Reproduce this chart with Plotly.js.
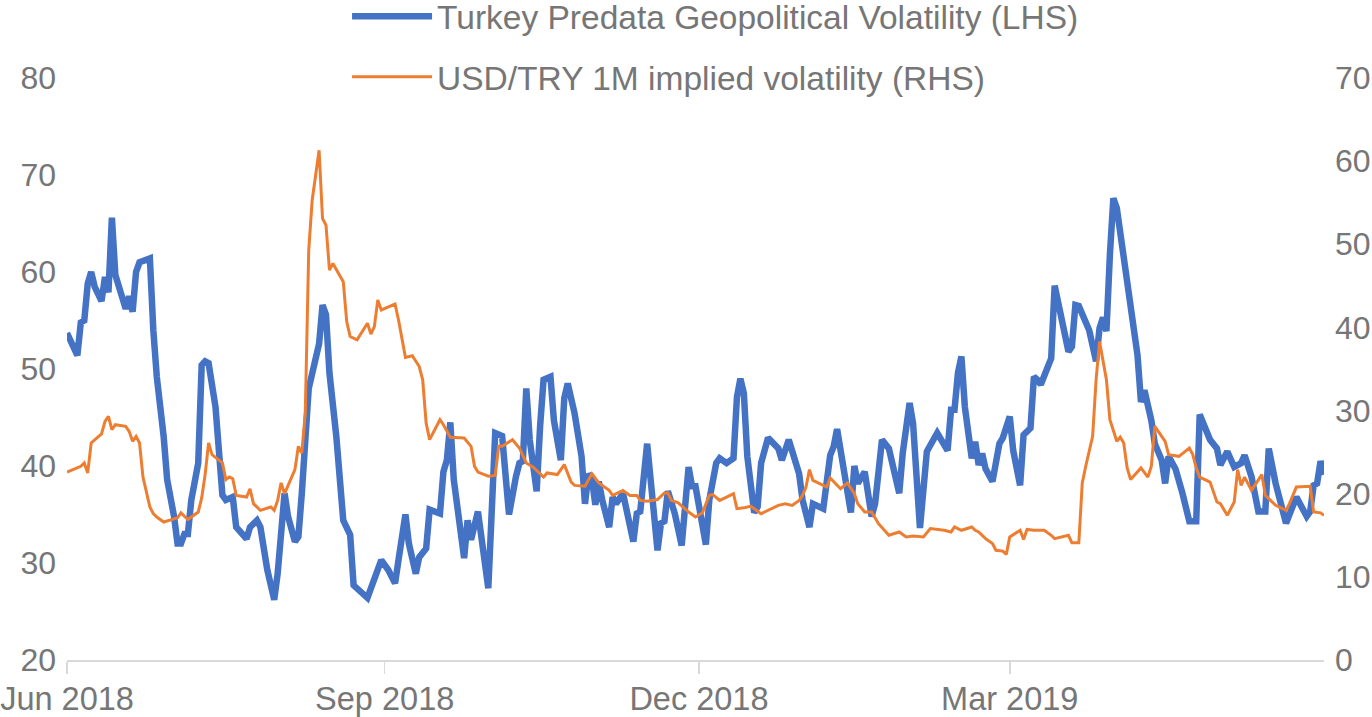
<!DOCTYPE html>
<html>
<head>
<meta charset="utf-8">
<script src="https://cdn.plot.ly/plotly-3.0.1.min.js"></script>
<style>
html,body{margin:0;padding:0;background:#fff;}
#chart{width:1372px;height:717px;}
</style>
</head>
<body>
<div id="chart"></div>
<script>
// Turkey Predata Geopolitical Volatility (LHS)
const geoDates = [
'2018-06-01','2018-06-04','2018-06-05','2018-06-06','2018-06-07','2018-06-08','2018-06-09','2018-06-11','2018-06-12','2018-06-13',
'2018-06-14','2018-06-15','2018-06-18','2018-06-19','2018-06-20','2018-06-21','2018-06-22','2018-06-25','2018-06-26','2018-06-27',
'2018-06-29','2018-06-30','2018-07-02','2018-07-03','2018-07-04','2018-07-05','2018-07-06','2018-07-07','2018-07-09','2018-07-10',
'2018-07-11','2018-07-12','2018-07-14','2018-07-15','2018-07-16','2018-07-17','2018-07-19','2018-07-20','2018-07-23','2018-07-24',
'2018-07-26','2018-07-27','2018-07-29','2018-07-31','2018-08-01','2018-08-03','2018-08-04','2018-08-06','2018-08-07','2018-08-08',
'2018-08-10','2018-08-13','2018-08-14','2018-08-15','2018-08-16','2018-08-18','2018-08-20','2018-08-22','2018-08-23','2018-08-27',
'2018-08-29','2018-08-31','2018-09-02','2018-09-04','2018-09-05','2018-09-07','2018-09-08','2018-09-10','2018-09-11','2018-09-13',
'2018-09-14','2018-09-17','2018-09-18','2018-09-19','2018-09-20','2018-09-21','2018-09-24','2018-09-25','2018-09-26','2018-09-28',
'2018-10-01','2018-10-02','2018-10-03','2018-10-05','2018-10-07','2018-10-09','2018-10-10','2018-10-11','2018-10-12','2018-10-13',
'2018-10-15','2018-10-16','2018-10-17','2018-10-19','2018-10-20','2018-10-22','2018-10-23','2018-10-24','2018-10-26','2018-10-28',
'2018-10-29','2018-10-30','2018-10-31','2018-11-01','2018-11-02','2018-11-03','2018-11-05','2018-11-06','2018-11-07','2018-11-09',
'2018-11-12','2018-11-13','2018-11-14','2018-11-16','2018-11-17','2018-11-19','2018-11-20','2018-11-21','2018-11-22','2018-11-24',
'2018-11-26','2018-11-28','2018-11-29','2018-11-30','2018-12-03','2018-12-04','2018-12-06','2018-12-07','2018-12-09','2018-12-11',
'2018-12-12','2018-12-13','2018-12-14','2018-12-15','2018-12-17','2018-12-18','2018-12-19','2018-12-21','2018-12-24','2018-12-25',
'2018-12-27','2018-12-30','2018-12-31','2019-01-02','2019-01-03','2019-01-06','2019-01-08','2019-01-09','2019-01-10','2019-01-12',
'2019-01-14','2019-01-15','2019-01-16','2019-01-18','2019-01-20','2019-01-21','2019-01-23','2019-01-25','2019-01-28','2019-01-29',
'2019-01-31','2019-02-01','2019-02-03','2019-02-05','2019-02-08','2019-02-11','2019-02-12','2019-02-13','2019-02-14','2019-02-15',
'2019-02-16','2019-02-18','2019-02-19','2019-02-20','2019-02-21','2019-02-22','2019-02-24','2019-02-26','2019-02-27','2019-03-01',
'2019-03-02','2019-03-04','2019-03-05','2019-03-07','2019-03-08','2019-03-09','2019-03-10','2019-03-12','2019-03-13','2019-03-14',
'2019-03-16','2019-03-18','2019-03-19','2019-03-20','2019-03-21','2019-03-24','2019-03-26','2019-03-27','2019-03-28','2019-03-29',
'2019-03-30','2019-03-31','2019-04-01','2019-04-03','2019-04-04','2019-04-05','2019-04-07','2019-04-08','2019-04-09','2019-04-11',
'2019-04-12','2019-04-14','2019-04-15','2019-04-16','2019-04-18','2019-04-20','2019-04-22','2019-04-24','2019-04-25','2019-04-28',
'2019-04-30','2019-05-01','2019-05-03','2019-05-05','2019-05-07','2019-05-08','2019-05-10','2019-05-12','2019-05-14','2019-05-15',
'2019-05-17','2019-05-20','2019-05-21','2019-05-23','2019-05-26','2019-05-27','2019-05-28','2019-05-29','2019-05-30','2019-05-31'
];
const geoValues = [
53.7,51.4,54.8,55.0,58.8,60.0,58.5,57.0,59.5,57.9,
65.6,59.7,56.2,57.5,55.9,60.0,61.0,61.4,54.0,49.2,
43.0,38.6,34.8,32.0,32.0,33.0,33.0,36.5,40.3,50.4,
50.8,50.6,46.1,41.1,37.0,36.5,36.8,33.7,32.5,33.7,
34.4,33.7,29.3,26.2,28.9,37.2,34.8,32.2,32.7,37.2,
48.0,52.6,56.6,55.6,49.6,43.0,34.4,32.9,27.7,26.4,
28.6,30.3,29.3,27.9,30.3,35.0,32.0,28.9,30.6,31.5,
35.5,35.1,39.4,40.6,44.5,38.6,30.5,34.4,32.4,35.3,
27.4,34.8,43.4,43.1,35.0,38.9,40.3,40.5,48.0,42.7,
37.4,44.1,48.9,49.2,44.7,40.6,47.0,48.5,45.4,41.0,
36.1,39.2,38.7,36.0,38.4,36.5,33.7,36.8,36.1,37.2,
32.2,35.1,35.3,42.3,38.6,31.3,34.1,34.3,37.4,35.1,
31.8,39.9,37.9,37.9,31.9,36.5,40.3,40.8,40.3,40.8,
47.1,49.0,47.5,41.0,35.2,35.8,40.3,42.9,41.8,40.6,
42.7,39.2,36.5,33.7,36.1,35.6,41.1,42.0,43.8,39.6,
35.2,40.0,38.2,39.4,34.8,36.1,42.7,41.8,37.2,41.3,
46.5,44.4,33.6,41.5,43.4,41.6,45.8,45.8,49.6,51.3,
46.1,40.8,42.5,40.1,41.3,39.7,38.4,42.3,42.9,45.1,
41.6,38.0,43.2,43.9,49.2,48.9,48.4,50.2,51.1,58.6,
55.0,51.8,52.3,56.6,56.5,54.0,50.8,54.2,55.3,53.9,
61.8,67.6,66.6,61.6,58.0,55.7,51.4,46.6,47.8,44.7,
42.3,40.6,38.2,41.0,39.7,37.2,34.3,34.3,45.3,42.7,
41.8,40.1,41.5,39.9,40.3,41.1,38.9,35.3,35.3,41.8,
38.2,34.1,35.0,36.8,34.8,35.3,38.0,38.2,40.5,39.1
];

// USD/TRY 1M implied volatility (RHS)
const fxDates = [
'2018-06-01','2018-06-05','2018-06-06','2018-06-07','2018-06-08','2018-06-11','2018-06-12','2018-06-13','2018-06-14','2018-06-15',
'2018-06-18','2018-06-19','2018-06-20','2018-06-21','2018-06-22','2018-06-23','2018-06-25','2018-06-26','2018-06-27','2018-06-29',
'2018-07-03','2018-07-04','2018-07-06','2018-07-09','2018-07-10','2018-07-11','2018-07-12','2018-07-13','2018-07-16','2018-07-17',
'2018-07-18','2018-07-19','2018-07-20','2018-07-23','2018-07-24','2018-07-25','2018-07-27','2018-07-30','2018-07-31','2018-08-01',
'2018-08-02','2018-08-03','2018-08-06','2018-08-07','2018-08-08','2018-08-09','2018-08-10','2018-08-11','2018-08-13','2018-08-14',
'2018-08-15','2018-08-16','2018-08-17','2018-08-20','2018-08-21','2018-08-22','2018-08-24','2018-08-27','2018-08-28','2018-08-29',
'2018-08-30','2018-08-31','2018-09-04','2018-09-05','2018-09-07','2018-09-09','2018-09-11','2018-09-12','2018-09-13','2018-09-14',
'2018-09-17','2018-09-18','2018-09-20','2018-09-24','2018-09-26','2018-09-27','2018-09-28','2018-10-01','2018-10-03','2018-10-04',
'2018-10-05','2018-10-08','2018-10-10','2018-10-12','2018-10-14','2018-10-17','2018-10-18','2018-10-21','2018-10-23','2018-10-25',
'2018-10-26','2018-10-29','2018-10-31','2018-11-02','2018-11-05','2018-11-06','2018-11-09','2018-11-11','2018-11-13','2018-11-14',
'2018-11-16','2018-11-19','2018-11-21','2018-11-22','2018-11-23','2018-11-25','2018-11-28','2018-11-30','2018-12-02','2018-12-04',
'2018-12-05','2018-12-07','2018-12-09','2018-12-11','2018-12-12','2018-12-14','2018-12-16','2018-12-19','2018-12-20','2018-12-24',
'2018-12-26','2018-12-28','2018-12-30','2018-12-31','2019-01-01','2019-01-02','2019-01-03','2019-01-07','2019-01-08','2019-01-11',
'2019-01-13','2019-01-15','2019-01-16','2019-01-18','2019-01-20','2019-01-22','2019-01-25','2019-01-28','2019-01-30','2019-02-01',
'2019-02-04','2019-02-06','2019-02-10','2019-02-12','2019-02-13','2019-02-15','2019-02-18','2019-02-19','2019-02-20','2019-02-22',
'2019-02-24','2019-02-25','2019-02-27','2019-02-28','2019-03-01','2019-03-04','2019-03-05','2019-03-06','2019-03-08','2019-03-11',
'2019-03-13','2019-03-14','2019-03-18','2019-03-19','2019-03-21','2019-03-22','2019-03-23','2019-03-25','2019-03-26','2019-03-27',
'2019-03-29','2019-03-30','2019-04-01','2019-04-02','2019-04-03','2019-04-04','2019-04-05','2019-04-08','2019-04-10','2019-04-11',
'2019-04-12','2019-04-15','2019-04-16','2019-04-19','2019-04-22','2019-04-23','2019-04-24','2019-04-25','2019-04-28','2019-04-30',
'2019-05-01','2019-05-03','2019-05-05','2019-05-06','2019-05-07','2019-05-08','2019-05-10','2019-05-13','2019-05-14','2019-05-17',
'2019-05-20','2019-05-21','2019-05-23','2019-05-27','2019-05-28','2019-05-30','2019-05-31'
];
const fxValues = [
22.6,23.3,23.7,22.5,26.1,27.2,28.7,29.3,27.7,28.3,
28.1,27.5,26.3,26.9,26.1,22.0,18.4,17.6,17.2,16.6,
17.1,17.7,16.9,17.8,19.5,22.3,26.1,24.7,23.7,21.7,
22.0,21.8,19.8,19.6,20.6,18.8,18.0,18.4,18.0,19.2,
21.3,20.0,22.9,25.7,24.9,29.7,49.3,55.3,61.3,53.1,
52.3,46.9,47.7,45.5,40.7,38.9,38.5,40.5,39.2,40.1,
43.3,42.1,42.8,40.9,36.4,36.6,35.3,33.7,28.5,26.5,
28.9,28.3,26.8,26.7,25.7,23.3,22.6,22.1,22.2,25.7,
25.7,26.5,25.5,23.7,23.2,22.0,22.5,22.3,23.5,21.4,
21.0,20.9,22.4,21.3,20.4,19.8,20.4,19.8,19.8,19.2,
19.1,19.3,20.1,20.1,19.2,18.9,17.8,17.2,17.7,19.8,
19.9,19.2,19.6,20.0,18.2,18.3,18.5,17.6,17.8,18.6,
18.8,18.6,19.2,19.8,20.8,22.9,21.6,20.8,21.9,20.6,
21.3,20.0,18.8,17.8,17.8,16.4,15.0,15.4,14.8,14.9,
14.8,15.8,15.6,15.4,16.0,15.6,16.0,15.6,15.4,14.6,
14.0,13.2,13.1,12.7,14.8,15.6,14.5,15.7,15.6,15.6,
15.0,14.6,15.0,14.1,14.1,21.3,23.3,26.9,33.7,38.3,
33.7,28.9,26.3,26.8,26.1,23.1,21.7,23.1,22.0,23.3,
28.1,26.3,24.7,24.5,25.5,24.7,23.1,22.0,21.4,19.0,
18.8,17.4,19.0,22.9,21.0,22.0,20.4,22.3,19.8,18.6,
18.0,18.8,20.8,20.9,17.8,17.7,17.4
];

const seriesNames = ['Turkey Predata Geopolitical Volatility (LHS)', 'USD/TRY 1M implied volatility (RHS)'];
const xTickVals = ['2018-06-01','2018-09-01','2018-12-01','2019-03-01'];
const xTickText = ['Jun 2018','Sep 2018','Dec 2018','Mar 2019'];
const leftTicks = [20,30,40,50,60,70,80];
const rightTicks = [0,10,20,30,40,50,60,70];

const textColor = '#767676';
const fontFam = '"Liberation Sans", Arial, Helvetica, sans-serif';

const traces = [
  {
    x: geoDates, y: geoValues, name: seriesNames[0], type: 'scatter', mode: 'lines',
    line: {color: '#4472C4', width: 6.5, shape: 'linear'}, yaxis: 'y', legendgroup: 'a'
  },
  {
    x: fxDates, y: fxValues, name: seriesNames[1], type: 'scatter', mode: 'lines',
    line: {color: '#ED7D31', width: 3}, yaxis: 'y2', legendgroup: 'b'
  }
];

const layout = {
  width: 1372, height: 717,
  margin: {l: 67, r: 48, t: 78, b: 57, autoexpand: false},
  paper_bgcolor: '#ffffff', plot_bgcolor: '#ffffff',
  font: {family: fontFam, size: 32, color: textColor},
  showlegend: true,
  legend: {
    x: 0.2228, xanchor: 'left', y: 1.1546, yanchor: 'top',
    orientation: 'v', traceorder: 'grouped', tracegroupgap: 14,
    font: {family: fontFam, size: 33.5, color: textColor},
    bgcolor: 'rgba(0,0,0,0)', itemwidth: 80
  },
  xaxis: {
    type: 'date',
    range: ['2018-06-01', '2019-05-31'],
    tickmode: 'array', tickvals: xTickVals, ticktext: xTickText,
    showgrid: false, zeroline: false,
    showline: true, linecolor: '#d9d9d9', linewidth: 1.5,
    ticks: 'outside', ticklen: 12, tickcolor: '#d9d9d9', tickwidth: 1.5,
    tickfont: {family: fontFam, size: 32.5, color: textColor},
    ticklabelstandoff: -3
  },
  yaxis: {
    range: [20, 80], tickmode: 'array', tickvals: leftTicks,
    showgrid: false, zeroline: false, showline: false, ticks: '',
    tickfont: {family: fontFam, size: 32, color: textColor},
    ticklabelstandoff: 10
  },
  yaxis2: {
    range: [0, 70], tickmode: 'array', tickvals: rightTicks,
    overlaying: 'y', side: 'right',
    showgrid: false, zeroline: false, showline: false, ticks: '',
    tickfont: {family: fontFam, size: 32, color: textColor},
    ticklabelstandoff: 10
  }
};

Plotly.newPlot('chart', traces, layout, {displayModeBar: false, staticPlot: true});
</script>
</body>
</html>
